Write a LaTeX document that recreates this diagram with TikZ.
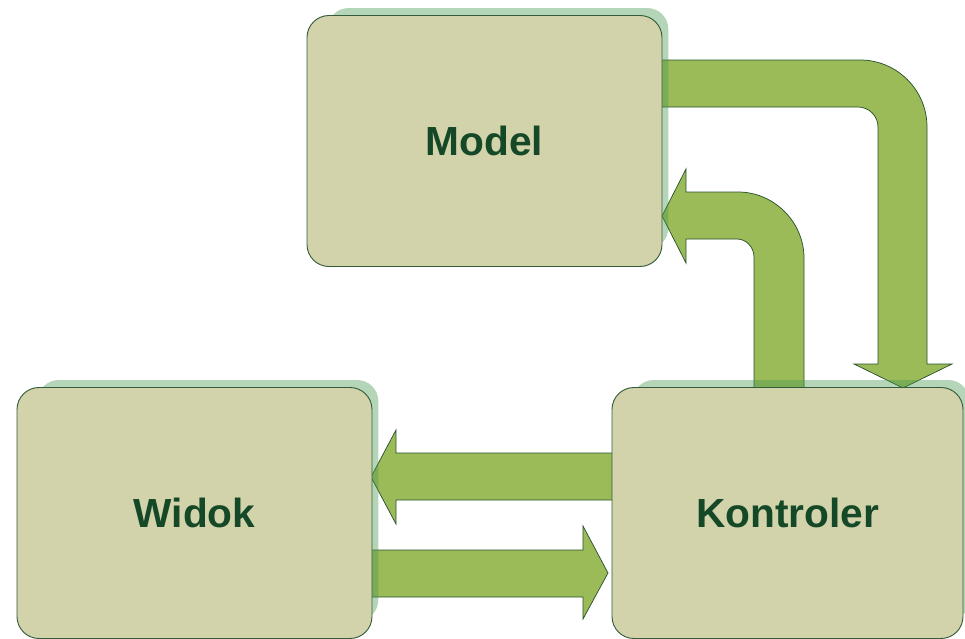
\documentclass[tikz,border=0pt]{standalone}
\usepackage{fontspec}
\setmainfont{Liberation Sans}
\usetikzlibrary{shadows}

\definecolor{boxfill}{RGB}{210,211,171}
\definecolor{boxline}{RGB}{52,92,58}
\definecolor{arrowfill}{RGB}{155,187,89}
\definecolor{arrowline}{RGB}{42,82,44}
\definecolor{shadowc}{RGB}{70,150,80}
\definecolor{labelc}{RGB}{20,72,38}

\pgfdeclarelayer{background}
\pgfsetlayers{background,main}

\tikzset{
  block/.style={
    draw=boxline, line width=0.7pt, fill=boxfill,
    rounded corners=16.5pt, inner sep=0pt,
    minimum width=266.25pt, minimum height=188.25pt,
    text=labelc, font=\fontsize{30.5}{36}\selectfont\bfseries,
    general shadow={shadow scale=0.96, shadow xshift=10.5pt,
                    shadow yshift=9.75pt, fill=shadowc, fill opacity=0.4}
  },
  blockarrow/.style={
    draw=arrowline, line width=0.55pt, fill=arrowfill, line join=miter
  }
}

\begin{document}
\begin{tikzpicture}[x=0.75pt,y=-0.75pt]
  \useasboundingbox (0,0) rectangle (965,639);

  % the three components
  \node[block] (model) at (484.5,141) {Model};
  \node[block] (widok) at (194.5,513) {Widok};
  \node[block, minimum width=263.25pt] (kontroler) at (787.5,513) {Kontroler};

  \begin{pgfonlayer}{background}
    % Model -> Kontroler: right, then down
    \draw[blockarrow] (655,60) -- (860,60)
      .. controls (897,60) and (927,90) .. (927,127)
      -- (927,364) -- (952,364) -- (903,388) -- (854,364) -- (878,364)
      -- (878,127)
      .. controls (878,116) and (869,107) .. (858,107)
      -- (655,107) -- cycle;

    % Kontroler -> Model: up, then left
    \draw[blockarrow] (754,395) -- (754,257)
      .. controls (754,247) and (746,239) .. (737,239)
      -- (686,239) -- (686,263) -- (662,216) -- (686,169) -- (686,192)
      -- (738,192)
      .. controls (774,192) and (804,222) .. (804,258)
      -- (804,395) -- cycle;

    % Kontroler -> Widok
    \draw[blockarrow] (620,453) -- (396,453) -- (396,430) -- (371,477)
      -- (396,524) -- (396,500) -- (620,500) -- cycle;

    % Widok -> Kontroler
    \draw[blockarrow] (365,550) -- (583,550) -- (583,526) -- (608,573)
      -- (583,619) -- (583,597) -- (365,597) -- cycle;
  \end{pgfonlayer}
\end{tikzpicture}
\end{document}
